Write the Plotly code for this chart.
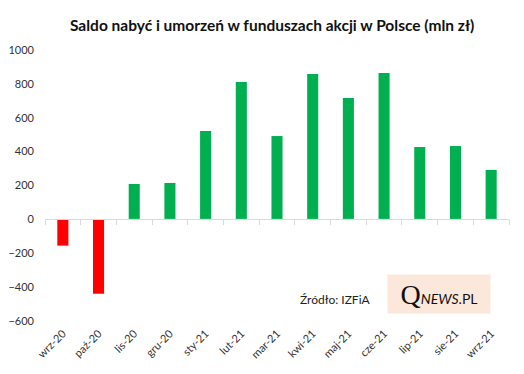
import plotly.graph_objects as go

categories = ["wrz-20", "paź-20", "lis-20", "gru-20", "sty-21", "lut-21", "mar-21",
              "kwi-21", "maj-21", "cze-21", "lip-21", "sie-21", "wrz-21"]
values = [-155, -439, 209, 215, 522, 811, 492, 858, 717, 864, 427, 433, 292]
y_ticks = [-600, -400, -200, 0, 200, 400, 600, 800, 1000]

colors = ["#ff0000" if v < 0 else "#00b050" for v in values]
font_family = "Lato, 'Open Sans', sans-serif"

fig = go.Figure()
fig.add_trace(go.Bar(x=categories, y=values, marker_color=colors, marker_line_width=0,
                     hoverinfo="x+y", showlegend=False))
# invisible trace to carry the zero-line axis with boundary ticks
fig.add_trace(go.Bar(x=categories, y=[0] * len(categories), xaxis="x2",
                     marker_color="rgba(0,0,0,0)", hoverinfo="skip", showlegend=False))

fig.update_layout(
    width=508, height=358,
    margin=dict(l=37, r=7, t=42, b=45),
    paper_bgcolor="white", plot_bgcolor="white",
    barmode="overlay",
    bargap=0.69,
    title=dict(text="<b>Saldo nabyć i umorzeń w funduszach akcji w Polsce (mln zł)</b>",
               x=0.52, xanchor="center", y=0.95, yanchor="middle",
               font=dict(family=font_family, size=15.5, color="#111")),
    font=dict(family=font_family, size=11, color="#333"),
    xaxis=dict(type="category", categoryarray=categories, range=[-0.5, 12.5],
               showline=False, showgrid=False, ticks="", tickangle=-45, automargin=False,
               tickfont=dict(size=11, color="#333"), ticklabelstandoff=3),
    xaxis2=dict(type="category", categoryarray=categories, range=[-0.5, 12.5],
                overlaying="x", anchor="free", position=0.375, automargin=False,
                showline=True, linecolor="#d9d9d9", linewidth=1,
                ticks="outside", tickson="boundaries", tickcolor="#d9d9d9", ticklen=5,
                showticklabels=False, showgrid=False),
    yaxis=dict(range=[-600, 1000], tickvals=y_ticks, showgrid=False, zeroline=False,
               showline=False, ticks="", automargin=False,
               tickfont=dict(size=11, color="#333"), ticklabelstandoff=10),
)

fig.add_annotation(text="Źródło: IZFiA", xref="paper", yref="paper", x=0.545, y=0.078,
                   xanchor="left", yanchor="middle", showarrow=False,
                   font=dict(family=font_family, size=12, color="#222"))
fig.add_annotation(text="<span style='font-family:Liberation Serif,serif;font-size:28px'>Q</span>"
                        "<i>NEWS</i>.PL",
                   xref="paper", yref="paper", x=0.849, y=0.0996, xanchor="center", yanchor="middle",
                   showarrow=False, bgcolor="#fce8da", width=98, height=34, borderpad=2,
                   font=dict(family=font_family, size=14, color="#111"))

fig.write_html("out.html")
